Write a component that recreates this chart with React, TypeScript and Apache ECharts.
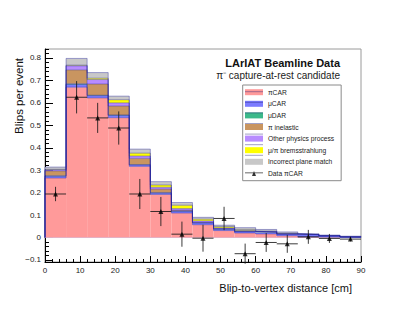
import React, { useEffect, useRef } from "react";
import * as echarts from "echarts";

// Bin edges (cm)
const binEdges = [0, 6, 12, 18, 24, 30, 36, 42, 48, 54, 60, 66, 72, 78, 84, 90];

// Stacked MC components (blips per event), bottom to top
const piCAR = [0.265, 0.670, 0.622, 0.534, 0.317, 0.192, 0.109, 0.057, 0.031, 0.020, 0.016, 0.008, 0.003, 0.002, 0.000];
const muCAR = [0.008, 0.012, 0.010, 0.010, 0.006, 0.006, 0.008, 0.008, 0.006, 0.006, 0.007, 0.008, 0.010, 0.006, 0.003];
const muDAR = [0.002, 0.003, 0.002, 0.002, 0.002, 0.002, 0.001, 0.001, 0.001, 0.001, 0.001, 0.000, 0.000, 0.000, 0.000];
const piInelastic = [0.022, 0.062, 0.050, 0.040, 0.028, 0.016, 0.004, 0.002, 0.002, 0.001, 0.001, 0.000, 0.000, 0.000, 0.000];
const otherPhysics = [0.005, 0.018, 0.020, 0.014, 0.010, 0.008, 0.007, 0.006, 0.003, 0.003, 0.002, 0.000, 0.000, 0.000, 0.000];
const bremsstrahlung = [0.002, 0.003, 0.006, 0.014, 0.013, 0.010, 0.015, 0.008, 0.006, 0.005, 0.001, 0.003, 0.000, 0.000, 0.000];
const incorrectPlane = [0.010, 0.030, 0.025, 0.016, 0.018, 0.015, 0.012, 0.008, 0.006, 0.008, 0.008, 0.006, 0.004, 0.003, 0.003];

// Data points
const dataX = [3, 9, 15, 21, 27, 33, 39, 45, 51, 57, 63, 69, 75, 81, 87];
const dataY = [0.194, 0.625, 0.533, 0.488, 0.194, 0.116, 0.015, -0.003, 0.085, -0.072, -0.022, -0.028, 0.003, -0.004, -0.007];
const dataErr = [0.032, 0.072, 0.067, 0.074, 0.067, 0.065, 0.056, 0.060, 0.052, 0.045, 0.042, 0.040, 0.031, 0.020, 0.010];
const dataHalfWidth = [3, 3, 3, 3, 3, 3, 3, 3, 3, 3, 3, 3, 3, 3, 3];

// Axis ticks
const yMajorTicks = [-0.1, 0, 0.1, 0.2, 0.3, 0.4, 0.5, 0.6, 0.7, 0.8];
const yMin = -0.109;
const yMax = 0.84;

const layerNames = [
  "πCAR",
  "μCAR",
  "μDAR",
  "π inelastic",
  "Other physics process",
  "μ/π bremsstrahlung",
  "Incorrect plane match",
];
const layerColors = ["#ff9a9a", "#7b7bff", "#3cb98a", "#c99560", "#b88cff", "#ffff00", "#c8c8c8"];
const dataName = "Data πCAR";

const FONT = "Liberation Sans, Arial, Helvetica, sans-serif";

export default function App() {
  const ref = useRef<HTMLDivElement>(null);

  useEffect(() => {
    if (!ref.current) return;
    const chart = echarts.init(ref.current, null, { renderer: "svg" });

    const layers = [piCAR, muCAR, muDAR, piInelastic, otherPhysics, bremsstrahlung, incorrectPlane];
    const nBins = binEdges.length - 1;
    const cum: number[][] = [];
    let running = new Array(nBins).fill(0);
    layers.forEach((arr) => {
      running = running.map((v, i) => v + arr[i]);
      cum.push(running.slice());
    });

    const series: any[] = [];
    layers.forEach((arr, k) => {
      const base = k === 0 ? new Array(nBins).fill(0) : cum[k - 1];
      const top = cum[k];
      const color = layerColors[k];
      series.push({
        type: "custom",
        name: layerNames[k],
        itemStyle: { color },
        encode: { x: [0, 1], y: [2, 3] },
        data: binEdges.slice(0, -1).map((x0, i) => [x0, binEdges[i + 1], base[i], top[i]]),
        renderItem: (params: any, api: any) => {
          const b = api.value(2);
          const t = api.value(3);
          if (t - b <= 0) return null;
          const p0 = api.coord([api.value(0), t]);
          const p1 = api.coord([api.value(1), b]);
          return {
            type: "rect",
            shape: { x: p0[0], y: p0[1], width: p1[0] - p0[0], height: p1[1] - p0[1] },
            style: { fill: color },
          };
        },
        z: 2,
        silent: true,
      });
    });

    // step outlines of each cumulative histogram
    cum.forEach((c, k) => {
      const pts: number[][] = [[0, 0]];
      c.forEach((v, i) => pts.push([binEdges[i], v]));
      pts.push([binEdges[nBins], c[nBins - 1]]);
      pts.push([binEdges[nBins], 0]);
      series.push({
        type: "line",
        name: "outline" + k,
        step: "end",
        data: pts,
        symbol: "none",
        lineStyle: { color: "#22229a", width: 0.9, opacity: 0.45 },
        z: 3,
        silent: true,
      });
    });

    // zero baseline
    series.push({
      type: "line",
      name: "baseline",
      data: [[0, 0], [90, 0]],
      symbol: "none",
      lineStyle: { color: "#c8c8ee", width: 1 },
      z: 1,
      silent: true,
    });

    // error bars
    series.push({
      type: "custom",
      name: "errors",
      encode: { x: 0, y: 1 },
      data: dataX.map((x, i) => [x, dataY[i], dataErr[i], dataHalfWidth[i]]),
      renderItem: (params: any, api: any) => {
        const x = api.value(0);
        const y = api.value(1);
        const e = api.value(2);
        const h = api.value(3);
        const a = api.coord([x, y - e]);
        const b = api.coord([x, y + e]);
        const l = api.coord([x - h, y]);
        const r = api.coord([x + h, y]);
        const st = { stroke: "#1a1a1a", lineWidth: 1, opacity: 0.85 };
        return {
          type: "group",
          children: [
            { type: "line", shape: { x1: a[0], y1: a[1], x2: b[0], y2: b[1] }, style: st },
            { type: "line", shape: { x1: l[0], y1: l[1], x2: r[0], y2: r[1] }, style: st },
          ],
        };
      },
      z: 6,
      silent: true,
    });

    series.push({
      type: "scatter",
      name: dataName,
      data: dataX.map((x, i) => [x, dataY[i]]),
      symbol: "triangle",
      symbolSize: 5,
      itemStyle: { color: "#000" },
      z: 7,
      silent: true,
    });

    const yMinor: number[] = [];
    for (let v = -0.1; v <= yMax + 1e-9; v += 0.02) yMinor.push(Math.round(v * 1000) / 1000);

    const fmtY = (v: number) => {
      const r = Math.round(v * 10) / 10;
      if (Math.abs(r) < 1e-9) return "0";
      const s = Math.abs(r).toString();
      return r < 0 ? "−" + s : s;
    };

    const legendTop = 85;
    const legendPadTop = 3.7;
    const itemH = 6;
    const itemGap = 4.6;
    const swatchX = 245;

    const option: any = {
      animation: false,
      backgroundColor: "#fff",
      textStyle: { fontFamily: FONT },
      title: [
        {
          text: "LArIAT Beamline Data",
          right: 67,
          top: 56,
          padding: 0,
          textStyle: { fontFamily: FONT, fontSize: 11, fontWeight: "bold", color: "#111", lineHeight: 13 },
        },
        {
          text: "π⁻ capture-at-rest candidate",
          right: 67,
          top: 69,
          padding: 0,
          textStyle: { fontFamily: FONT, fontSize: 10, fontWeight: "normal", color: "#222", lineHeight: 12 },
        },
      ],
      legend: {
        orient: "vertical",
        left: 242.7,
        top: legendTop,
        padding: [legendPadTop, 7, 3.8, 2.3],
        itemWidth: 18,
        itemHeight: itemH,
        itemGap: itemGap,
        selectedMode: false,
        backgroundColor: "#fff",
        borderColor: "#8a8a8a",
        borderWidth: 1,
        textStyle: { fontFamily: FONT, fontSize: 6.7, color: "#222", lineHeight: itemH },
        data: [
          ...layerNames.map((n) => ({ name: n, icon: "rect" })),
          { name: dataName, icon: "path://M0,3.1H18V3.9H0Z M7,6.5L9,1.5L11,6.5Z" },
        ],
      },
      grid: {
        left: 45,
        right: 46,
        top: 49,
        bottom: 53,
        show: true,
        borderColor: "#9a9a9a",
        borderWidth: 1,
        backgroundColor: "transparent",
      },
      xAxis: {
        type: "value",
        min: 0,
        max: 90,
        interval: 10,
        axisLine: { show: true, onZero: false, lineStyle: { color: "#000", width: 1 } },
        axisTick: { show: true, inside: true, length: 6, lineStyle: { color: "#000" } },
        minorTick: { show: true, splitNumber: 5, length: 3, lineStyle: { color: "#000" } },
        axisLabel: { fontFamily: FONT, fontSize: 8, color: "#222", margin: 4 },
        splitLine: { show: false },
      },
      yAxis: [
        {
          type: "value",
          min: yMin,
          max: yMax,
          axisLine: { show: true, onZero: false, lineStyle: { color: "#000", width: 1 } },
          axisTick: { show: true, inside: true, length: 8, customValues: yMajorTicks, lineStyle: { color: "#000" } },
          axisLabel: {
            customValues: yMajorTicks,
            formatter: fmtY,
            fontFamily: FONT,
            fontSize: 8,
            color: "#222",
            margin: 4,
          },
          splitLine: { show: false },
        },
        {
          type: "value",
          min: yMin,
          max: yMax,
          position: "left",
          axisLine: { show: false },
          axisTick: { show: true, inside: true, length: 4, customValues: yMinor, lineStyle: { color: "#000" } },
          axisLabel: { show: false },
          splitLine: { show: false },
        },
      ],
      series,
      graphic: [
        ...layerNames.map((n, i) => ({
          type: "line",
          z: 100,
          silent: true,
          shape: {
            x1: swatchX,
            y1: legendTop + legendPadTop + itemH / 2 + i * (itemH + itemGap),
            x2: swatchX + 18,
            y2: legendTop + legendPadTop + itemH / 2 + i * (itemH + itemGap),
          },
          style: { stroke: "rgba(40,40,120,0.55)", lineWidth: 0.8 },
        })),
        {
          type: "text",
          z: 100,
          x: 19,
          y: 96,
          rotation: Math.PI / 2,
          style: {
            text: "Blips per event",
            fontFamily: FONT,
            fontSize: 11.5,
            fill: "#111",
            textAlign: "center",
            textVerticalAlign: "middle",
          },
        },
        {
          type: "text",
          z: 100,
          x: 352,
          y: 288,
          style: {
            text: "Blip-to-vertex distance [cm]",
            fontFamily: FONT,
            fontSize: 11,
            fill: "#111",
            textAlign: "right",
            textVerticalAlign: "middle",
          },
        },
      ],
    };

    chart.setOption(option);
    return () => chart.dispose();
  }, []);

  return (
    <div
      ref={ref}
      style={{ position: "fixed", left: 0, top: 0, width: 407, height: 315 }}
    />
  );
}
